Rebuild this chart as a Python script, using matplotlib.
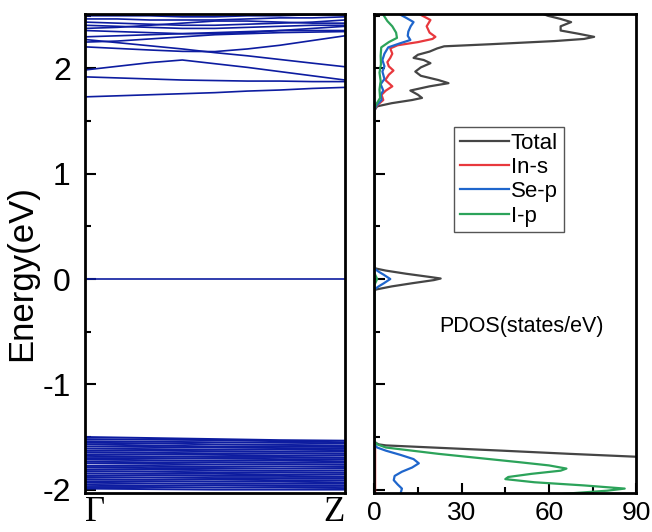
import matplotlib
matplotlib.use('Agg')
import matplotlib.pyplot as plt
from matplotlib.ticker import MultipleLocator

plt.rcParams['font.family'] = ['Liberation Sans', 'DejaVu Sans']
plt.rcParams['axes.unicode_minus'] = False

# band structure, k from Gamma (0) to Z (1)
k_c = [0, 0.125, 0.25, 0.375, 0.5, 0.625, 0.75, 0.875, 1.0]
cond_bands = [
    [1.73, 1.74, 1.75, 1.76, 1.77, 1.785, 1.795, 1.81, 1.82],
    [1.92, 1.91, 1.90, 1.89, 1.885, 1.88, 1.88, 1.875, 1.875],
    [1.985, 2.02, 2.055, 2.08, 2.045, 2.01, 1.97, 1.93, 1.89],
    [2.205, 2.19, 2.175, 2.162, 2.16, 2.185, 2.22, 2.265, 2.31],
    [2.275, 2.245, 2.215, 2.185, 2.15, 2.12, 2.085, 2.05, 2.016],
    [2.25, 2.26, 2.28, 2.30, 2.32, 2.33, 2.34, 2.345, 2.35],
    [2.30, 2.31, 2.32, 2.33, 2.34, 2.35, 2.36, 2.36, 2.36],
    [2.36, 2.35, 2.34, 2.33, 2.33, 2.34, 2.36, 2.38, 2.40],
    [2.38, 2.39, 2.41, 2.43, 2.45, 2.45, 2.44, 2.43, 2.43],
    [2.41, 2.40, 2.39, 2.38, 2.38, 2.39, 2.40, 2.41, 2.41],
    [2.44, 2.43, 2.42, 2.41, 2.41, 2.42, 2.43, 2.44, 2.46],
    [2.47, 2.47, 2.46, 2.46, 2.46, 2.47, 2.48, 2.48, 2.49],
    [2.50, 2.50, 2.50, 2.49, 2.49, 2.50, 2.50, 2.51, 2.51],
]
k_v = [0, 0.25, 0.5, 0.75, 1.0]
mid_band = [0.0, 0.0, 0.0, 0.0, 0.0]
val_bands = [
    [-1.50, -1.51, -1.52, -1.53, -1.535],
    [-1.52, -1.525, -1.53, -1.54, -1.55],
    [-1.54, -1.545, -1.55, -1.555, -1.56],
    [-1.555, -1.56, -1.57, -1.575, -1.58],
    [-1.57, -1.58, -1.59, -1.59, -1.595],
    [-1.59, -1.595, -1.60, -1.605, -1.61],
    [-1.61, -1.615, -1.62, -1.62, -1.625],
    [-1.63, -1.63, -1.635, -1.64, -1.64],
    [-1.645, -1.65, -1.655, -1.655, -1.66],
    [-1.665, -1.665, -1.67, -1.675, -1.675],
    [-1.68, -1.685, -1.69, -1.69, -1.695],
    [-1.70, -1.70, -1.705, -1.71, -1.71],
    [-1.715, -1.72, -1.725, -1.725, -1.73],
    [-1.735, -1.74, -1.74, -1.745, -1.745],
    [-1.75, -1.755, -1.76, -1.76, -1.765],
    [-1.775, -1.775, -1.78, -1.78, -1.785],
    [-1.79, -1.795, -1.795, -1.80, -1.80],
    [-1.81, -1.81, -1.815, -1.82, -1.82],
    [-1.825, -1.83, -1.835, -1.835, -1.84],
    [-1.845, -1.85, -1.85, -1.855, -1.855],
    [-1.865, -1.865, -1.87, -1.87, -1.875],
    [-1.88, -1.885, -1.89, -1.89, -1.89],
    [-1.90, -1.905, -1.905, -1.91, -1.91],
    [-1.92, -1.92, -1.925, -1.925, -1.93],
    [-1.935, -1.94, -1.945, -1.945, -1.945],
    [-1.955, -1.96, -1.96, -1.965, -1.965],
    [-1.975, -1.975, -1.98, -1.98, -1.985],
    [-1.99, -1.995, -2.0, -2.0, -2.0],
]

# PDOS (energy, states/eV)
tot_e = [-2.10, -1.72, -1.69, -1.66, -1.63, -1.60, -1.58, -1.57, -1.555, -1.54,
         -0.12, -0.10, -0.07, -0.04, -0.01, 0.005, 0.02, 0.05, 0.08, 0.10, 0.12,
         1.60, 1.64, 1.67, 1.70, 1.72, 1.75, 1.79, 1.83, 1.86, 1.89,
         1.93, 1.97, 2.01, 2.05, 2.08, 2.10, 2.13, 2.16, 2.19, 2.21,
         2.23, 2.26, 2.28, 2.30, 2.33, 2.36, 2.40, 2.44, 2.47, 2.50, 2.55]
tot_dos = [125, 115, 92, 67, 44, 20, 4, 1.5, 0.5, 0,
           0, 0.5, 6, 13, 20.5, 22.8, 19, 11, 4, 0.5, 0,
           0, 1, 6, 13, 16.4, 15, 12.4, 19, 25.5, 22,
           16, 14.1, 16, 19.3, 17, 13.5, 15, 19, 21.6, 24,
           40, 62, 72, 75.5, 70, 64, 64, 67.6, 64, 59.6, 55]

ins_e = [-2.10, -1.60, -1.58, -1.55, -0.10, 0.10,
         1.60, 1.65, 1.70, 1.75, 1.79, 1.83, 1.89, 1.94, 1.98, 2.02,
         2.06, 2.10, 2.14, 2.19, 2.22, 2.25, 2.28, 2.30, 2.34, 2.40,
         2.46, 2.51, 2.55]
ins_dos = [0.3, 0.3, 0.2, 0, 0, 0,
           0, 1, 3.1, 2.5, 4, 6.2, 3.8, 5, 6.6, 5,
           4.5, 5.5, 6.2, 5.5, 8, 15, 20, 21, 19, 18,
           19.3, 15.9, 14]

sep_e = [-2.10, -2.04, -1.99, -1.95, -1.91, -1.87, -1.83, -1.79, -1.75, -1.71,
         -1.67, -1.63, -1.60, -1.57,
         -0.10, -0.07, -0.04, 0.0, 0.04, 0.07, 0.10,
         1.60, 1.65, 1.70, 1.75, 1.79, 1.85, 1.90, 1.97, 2.02, 2.08,
         2.14, 2.20, 2.24, 2.27, 2.31, 2.35, 2.40, 2.44, 2.48, 2.51, 2.55]
sep_dos = [8, 9, 9.5, 8, 6.7, 7, 9.5, 13, 15.3, 13.5,
           9, 4, 1, 0,
           0, 1.5, 3.3, 5.5, 3.3, 1.5, 0,
           0, 0.8, 2.5, 2.2, 3.1, 2.2, 3.5, 2.8, 3.5, 2.8,
           3.5, 4.8, 9, 12.4, 11.5, 11.7, 12.5, 13.5, 11, 9, 8]

ip_e = [-2.10, -2.04, -2.01, -1.99, -1.96, -1.93, -1.90, -1.88, -1.85, -1.82,
        -1.80, -1.77, -1.74, -1.70, -1.66, -1.62, -1.60, -1.57, -1.54,
        -0.06, 0.0, 0.06,
        1.60, 1.65, 1.72, 1.80, 1.88, 1.96, 2.04, 2.12, 2.20, 2.25,
        2.29, 2.34, 2.40, 2.45, 2.51, 2.55]
ip_dos = [50, 65, 80, 86, 72, 55, 45, 46, 54, 64,
          66, 60, 50, 36, 22, 10, 4, 1, 0,
          0, 1.0, 0,
          0, 0.5, 2.0, 1.8, 2.2, 1.8, 2.3, 2.2, 2.4, 5,
          7.8, 7.5, 6.2, 4.5, 3.1, 2.5]

band_color = '#0d1ca0'

fig = plt.figure(figsize=(6.52, 5.32), dpi=100)
ax1 = fig.add_axes([0.130, 0.0733, 0.399, 0.9004])
ax2 = fig.add_axes([0.574, 0.0733, 0.402, 0.9004])

for b in cond_bands:
    ax1.plot(k_c, b, color=band_color, lw=1.2)
for b in val_bands:
    ax1.plot(k_v, b, color=band_color, lw=1.4)
ax1.plot(k_v, mid_band, color=band_color, lw=1.2)

ax1.set_xlim(0, 1)
ax1.set_ylim(-2.032, 2.517)
ax1.set_xticks([0, 1])
ax1.set_xticklabels(['Γ', 'Z'], fontfamily='Liberation Serif', fontsize=25)
ax1.get_xticklabels()[0].set_ha('left')
ax1.get_xticklabels()[1].set_ha('right')
ax1.tick_params(axis='x', length=0, pad=2)
ax1.set_yticks([-2, -1, 0, 1, 2])
ax1.yaxis.set_minor_locator(MultipleLocator(0.5))
ax1.tick_params(axis='y', which='major', direction='in', length=8, width=1.5,
                labelsize=23, pad=10)
ax1.tick_params(axis='y', which='minor', direction='in', length=4, width=1.5)
ax1.set_ylabel('Energy(eV)', fontsize=25)
ax1.yaxis.set_label_coords(-0.18, 0.46)

ax2.plot(tot_dos, tot_e, color='#454545', lw=1.6, label='Total')
ax2.plot(ins_dos, ins_e, color='#e8383d', lw=1.6, label='In-s')
ax2.plot(sep_dos, sep_e, color='#1f66cc', lw=1.6, label='Se-p')
ax2.plot(ip_dos, ip_e, color='#2ca35a', lw=1.6, label='I-p')

ax2.set_xlim(0, 90)
ax2.set_ylim(-2.032, 2.517)
ax2.set_xticks([0, 30, 60, 90])
ax2.xaxis.set_minor_locator(MultipleLocator(15))
ax2.tick_params(axis='x', which='major', direction='in', length=7, width=1.5,
                labelsize=19, pad=6)
ax2.tick_params(axis='x', which='minor', direction='in', length=4, width=1.5)
ax2.set_yticks([-2, -1, 0, 1, 2])
ax2.yaxis.set_minor_locator(MultipleLocator(0.5))
ax2.tick_params(axis='y', which='major', direction='in', length=8, width=1.5,
                labelleft=False)
ax2.tick_params(axis='y', which='minor', direction='in', length=4, width=1.5)

leg = ax2.legend(loc='upper left', bbox_to_anchor=(0.305, 0.764), fontsize=16,
                 handlelength=2.2, handletextpad=0.1, labelspacing=0.15,
                 borderpad=0.25, borderaxespad=0, fancybox=False, framealpha=1)
leg.get_frame().set_edgecolor('#555555')
leg.get_frame().set_linewidth(1.0)

ax2.text(0.561, 0.347, 'PDOS(states/eV)', transform=ax2.transAxes,
         ha='center', va='center', fontsize=15.5)

for ax in (ax1, ax2):
    for s in ax.spines.values():
        s.set_linewidth(2)

fig.savefig('out.png', dpi=100)
